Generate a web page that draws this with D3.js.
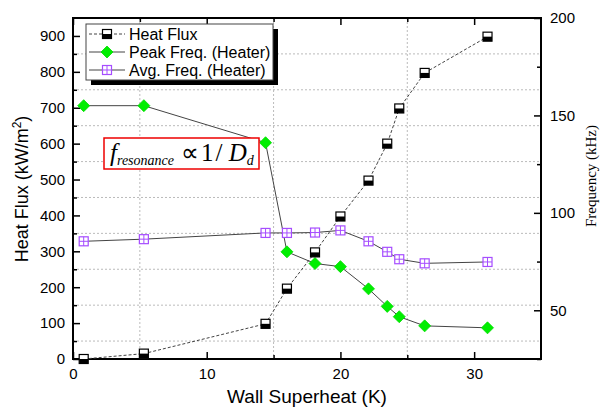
<!DOCTYPE html>
<html><head><meta charset="utf-8">
<script src="https://cdn.jsdelivr.net/npm/d3@7"></script>
<style>body{margin:0;background:#fff}svg{display:block}</style>
</head><body><svg id="c" width="607" height="411"></svg>
<script>
const superheat = [0.8, 5.3, 14.4, 16.0, 18.1, 20.0, 22.1, 23.5, 24.4, 26.3, 31.0];
const heatFlux  = [0, 15, 98, 196, 297, 397, 497, 600, 698, 797, 898];
const peakFreq  = [155, 155, 136, 80, 74, 72.4, 61, 52, 46.7, 42, 41];
const avgFreq   = [85.4, 86.5, 89.7, 89.7, 89.9, 91, 85.4, 80, 76.2, 74.1, 74.8];
const xTicks = [0, 10, 20, 30];
const yLeftTicks = [0, 100, 200, 300, 400, 500, 600, 700, 800, 900];
const yRightTicks = [50, 100, 150, 200];
const legendLabels = ["Heat Flux", "Peak Freq. (Heater)", "Avg. Freq. (Heater)"];

(function () {
const svg = d3.select("#c");
const L = 73, R = 541, T = 18, B = 359;
const x = d3.scaleLinear().domain([0, 35]).range([L, R]);
const yL = d3.scaleLinear().domain([0, 950]).range([B, T]);
const yR = d3.scaleLinear().domain([25, 200]).range([B, T]);
const font = "Liberation Sans, Arial, sans-serif";
const serif = "Liberation Serif, Times New Roman, serif";

const g = svg.append("g");
g.selectAll("line.gx").data([5, 15, 25]).join("line")
  .attr("x1", d => x(d)).attr("x2", d => x(d)).attr("y1", T).attr("y2", B)
  .attr("stroke", "#bbb").attr("stroke-width", 1).attr("stroke-dasharray", "2,2");
g.selectAll("line.gy").data(d3.range(50, 950, 100)).join("line")
  .attr("y1", d => yL(d)).attr("y2", d => yL(d)).attr("x1", L).attr("x2", R)
  .attr("stroke", "#bbb").attr("stroke-width", 1).attr("stroke-dasharray", "2,2");

function styleAxis(sel) {
  sel.select(".domain").remove();
  sel.selectAll("line").attr("stroke", "#000").attr("stroke-width", 1.5);
  sel.selectAll("text").attr("font-family", font).attr("font-size", 15).attr("fill", "#000");
}
function ax(gen, tr) {
  const s = svg.append("g").attr("transform", tr).call(gen);
  styleAxis(s);
  return s;
}
ax(d3.axisBottom(x).tickValues(xTicks).tickSize(-7).tickPadding(9).tickFormat(d3.format("d")), `translate(0,${B})`);
ax(d3.axisBottom(x).tickValues([5, 15, 25]).tickSize(-4).tickFormat(""), `translate(0,${B})`);
ax(d3.axisTop(x).tickValues(xTicks).tickSize(-7).tickFormat(""), `translate(0,${T})`);
ax(d3.axisTop(x).tickValues([5, 15, 25]).tickSize(-4).tickFormat(""), `translate(0,${T})`);
ax(d3.axisLeft(yL).tickValues(yLeftTicks).tickSize(-7).tickPadding(8).tickFormat(d3.format("d")), `translate(${L},0)`);
ax(d3.axisLeft(yL).tickValues(d3.range(50, 950, 100)).tickSize(-4).tickFormat(""), `translate(${L},0)`);
ax(d3.axisRight(yR).tickValues(yRightTicks).tickSize(-7).tickPadding(9).tickFormat(d3.format("d")), `translate(${R},0)`);
ax(d3.axisRight(yR).tickValues([25, 75, 125, 175]).tickSize(-4).tickFormat(""), `translate(${R},0)`);

svg.append("rect").attr("x", L).attr("y", T).attr("width", R - L).attr("height", B - T)
  .attr("fill", "none").attr("stroke", "#000").attr("stroke-width", 2);

svg.append("text").attr("x", 307).attr("y", 403).attr("text-anchor", "middle")
  .attr("font-family", font).attr("font-size", 19).text("Wall Superheat (K)");
const lt = svg.append("text").attr("transform", "translate(28,189) rotate(-90)").attr("text-anchor", "middle")
  .attr("font-family", font).attr("font-size", 18);
lt.append("tspan").text("Heat Flux (kW/m");
lt.append("tspan").attr("dy", -7).attr("font-size", 12).text("2");
lt.append("tspan").attr("dy", 7).text(")");
svg.append("text").attr("transform", "translate(596,176) rotate(-90)").attr("text-anchor", "middle")
  .attr("font-family", serif).attr("font-size", 15).text("Frequency (kHz)");

const hfPts = superheat.map((d, i) => [x(d), yL(heatFlux[i])]);
const pkPts = superheat.map((d, i) => [x(d), yR(peakFreq[i])]);
const avPts = superheat.map((d, i) => [x(d), yR(avgFreq[i])]);
const line = d3.line();
svg.append("path").attr("d", line(avPts)).attr("fill", "none").attr("stroke", "#444").attr("stroke-width", 1);
svg.append("path").attr("d", line(pkPts)).attr("fill", "none").attr("stroke", "#444").attr("stroke-width", 1);
svg.append("path").attr("d", line(hfPts)).attr("fill", "none").attr("stroke", "#444").attr("stroke-width", 1).attr("stroke-dasharray", "3,2");

function avgMarker(sel, cx, cy) {
  const s = 9;
  const m = sel.append("g").attr("transform", `translate(${cx},${cy})`);
  m.append("rect").attr("x", -s / 2).attr("y", -s / 2).attr("width", s).attr("height", s).attr("fill", "#fff").attr("stroke", "#a64dff").attr("stroke-width", 1.2);
  m.append("line").attr("x1", -s / 2).attr("x2", s / 2).attr("y1", 0).attr("y2", 0).attr("stroke", "#a64dff").attr("stroke-width", 1);
  m.append("line").attr("y1", -s / 2).attr("y2", s / 2).attr("x1", 0).attr("x2", 0).attr("stroke", "#a64dff").attr("stroke-width", 1);
}
function peakMarker(sel, cx, cy) {
  const r = 6;
  sel.append("path").attr("d", `M${cx},${cy - r}L${cx + r},${cy}L${cx},${cy + r}L${cx - r},${cy}Z`).attr("fill", "#00ee00").attr("stroke", "#00dd00").attr("stroke-width", 0.8);
}
function hfMarker(sel, cx, cy) {
  const s = 9;
  const m = sel.append("g").attr("transform", `translate(${cx},${cy})`);
  m.append("rect").attr("x", -s / 2).attr("y", -s / 2).attr("width", s).attr("height", s).attr("fill", "#fff");
  m.append("rect").attr("x", -s / 2).attr("y", 0).attr("width", s).attr("height", s / 2).attr("fill", "#000");
  m.append("rect").attr("x", -s / 2).attr("y", -s / 2).attr("width", s).attr("height", s).attr("fill", "none").attr("stroke", "#000").attr("stroke-width", 1.2);
}
const mk = svg.append("g");
avPts.forEach(p => avgMarker(mk, p[0], p[1]));
pkPts.forEach(p => peakMarker(mk, p[0], p[1]));
hfPts.forEach(p => hfMarker(mk, p[0], p[1]));

const lg = svg.append("g");
lg.append("rect").attr("x", 91).attr("y", 29).attr("width", 187).attr("height", 56).attr("fill", "#000");
lg.append("rect").attr("x", 86).attr("y", 24).attr("width", 187).attr("height", 56).attr("fill", "#fff").attr("stroke", "#444").attr("stroke-width", 1);
const rows = [34, 52, 70];
legendLabels.forEach((t, i) => {
  const y = rows[i];
  lg.append("line").attr("x1", 89).attr("x2", 125).attr("y1", y).attr("y2", y).attr("stroke", "#444").attr("stroke-width", 1)
    .attr("stroke-dasharray", i === 0 ? "3,2" : null);
  if (i === 0) hfMarker(lg, 107, y); else if (i === 1) peakMarker(lg, 107, y); else avgMarker(lg, 107, y);
  lg.append("text").attr("x", 129).attr("y", y + 6).attr("font-family", font).attr("font-size", 16).text(t);
});

svg.append("rect").attr("x", 104).attr("y", 138).attr("width", 155).attr("height", 31).attr("fill", "#fff").attr("stroke", "#e00").attr("stroke-width", 1.5);
const an = svg.append("text").attr("x", 110).attr("y", 161).attr("font-family", serif).attr("font-size", 25);
an.append("tspan").attr("font-style", "italic").text("f");
an.append("tspan").attr("font-style", "italic").attr("font-size", 14).attr("dy", 4).text("resonance");
an.append("tspan").attr("dy", -4).attr("dx", 7).text("∝");
an.append("tspan").attr("dx", 2).text("1");
an.append("tspan").attr("dx", 2).text("/ ");
an.append("tspan").attr("font-style", "italic").text("D");
an.append("tspan").attr("font-style", "italic").attr("font-size", 14).attr("dy", 4).text("d");
})();
</script></body></html>
